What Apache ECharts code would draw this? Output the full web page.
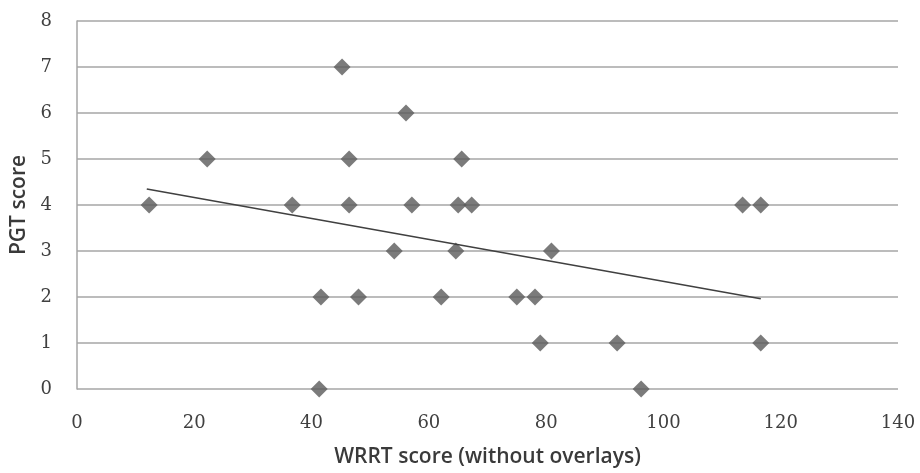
<!DOCTYPE html>
<html>
<head>
<meta charset="utf-8">
<script src="https://cdn.jsdelivr.net/npm/echarts@6/dist/echarts.min.js"></script>
<style>html,body{margin:0;padding:0;background:#fff}#c{width:920px;height:473px}</style>
</head>
<body>
<div id="c"></div>
<script>
var wrrtScores = [12.3, 22.2, 36.7, 45.2, 46.4, 46.4, 56.1, 57.1, 65.6, 65.0, 67.3, 54.1, 64.6, 41.6, 48.0, 62.1, 41.3, 80.9, 75.0, 78.1, 79.0, 92.1, 116.6, 96.2, 113.5, 116.6];
var pgtScores  = [4,    5,    4,    7,    5,    4,    6,    4,    5,    4,    4,    3,    3,    2,    2,    2,    0,    3,    2,    2,    1,    1,    1,    0,    4,    4];
var trendX = [11.9, 116.6];
var trendY = [4.35, 1.96];
var xTicks = [0, 20, 40, 60, 80, 100, 120, 140];
var yTicks = [0, 1, 2, 3, 4, 5, 6, 7, 8];

var points = wrrtScores.map(function (x, i) { return [x, pgtScores[i]]; });
var trend = trendX.map(function (x, i) { return [x, trendY[i]]; });

var chart = echarts.init(document.getElementById('c'));
chart.setOption({
  animation: false,
  backgroundColor: '#ffffff',
  grid: { left: 77, right: 22, top: 21, bottom: 84 },
  xAxis: {
    type: 'value', min: xTicks[0], max: xTicks[xTicks.length - 1], interval: 20,
    name: 'WRRT score (without overlays)', nameLocation: 'middle', nameGap: 58,
    nameTextStyle: { fontFamily: 'Open Sans', fontWeight: 600, fontSize: 21, color: '#3a3a3a' },
    axisLine: { show: false }, axisTick: { show: false }, splitLine: { show: false },
    axisLabel: { margin: 25, fontFamily: 'DejaVu Serif', fontSize: 18, color: '#404040' }
  },
  yAxis: {
    type: 'value', min: yTicks[0], max: yTicks[yTicks.length - 1], interval: 1,
    name: 'PGT score', nameLocation: 'middle', nameGap: 46, nameRotate: 90,
    nameTextStyle: { fontFamily: 'Open Sans', fontWeight: 600, fontSize: 21, color: '#3a3a3a' },
    axisLine: { show: true, lineStyle: { color: '#a6a6a6', width: 1.5 } },
    axisTick: { show: false },
    splitLine: { show: true, lineStyle: { color: '#a6a6a6', width: 1.5 } },
    axisLabel: { margin: 25, fontFamily: 'DejaVu Serif', fontSize: 18, color: '#404040' }
  },
  series: [
    {
      type: 'scatter', data: points, symbol: 'diamond', symbolSize: 17,
      itemStyle: { color: '#5a5a5a' }, z: 3
    },
    {
      type: 'line', data: trend, symbol: 'none',
      lineStyle: { color: '#404040', width: 1.5 }, z: 4
    }
  ]
});
</script>
</body>
</html>
